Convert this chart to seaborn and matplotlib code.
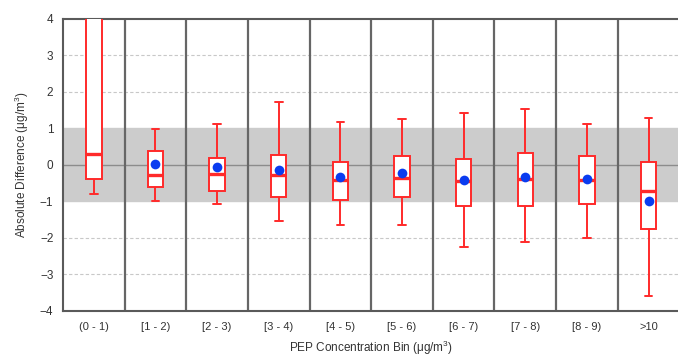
"""
Box plots of absolute difference per PEP concentration bin
"""

## Import packages
import numpy as np
import pandas as pd
import matplotlib.pyplot as plt
from matplotlib.ticker import FixedLocator
import seaborn as sns


## Data (five-number summaries and means)
bins = ['(0 - 1)', '[1 - 2)', '[2 - 3)', '[3 - 4)', '[4 - 5)',
        '[5 - 6)', '[6 - 7)', '[7 - 8)', '[8 - 9)', '>10']
whisker_low = [-0.81, -0.99, -1.08, -1.55, -1.65, -1.65, -2.25, -2.11, -2.01, -3.59]
q1 = [-0.38, -0.60, -0.72, -0.89, -0.96, -0.88, -1.13, -1.12, -1.07, -1.76]
median = [0.30, -0.27, -0.24, -0.29, -0.41, -0.36, -0.43, -0.39, -0.41, -0.71]
q3 = [6.0, 0.39, 0.18, 0.27, 0.07, 0.24, 0.15, 0.33, 0.25, 0.07]
whisker_high = [9.0, 0.98, 1.13, 1.71, 1.17, 1.27, 1.42, 1.54, 1.12, 1.29]
means = [np.nan, 0.02, -0.05, -0.15, -0.32, -0.21, -0.41, -0.32, -0.39, -0.99]

# Long table: five points per bin reproduce the box statistics exactly
rows = []
for i, b in enumerate(bins):
    for v in (whisker_low[i], q1[i], median[i], q3[i], whisker_high[i]):
        rows.append({'bin': b, 'diff': v})
df = pd.DataFrame(rows)
df_mean = pd.DataFrame({'bin': bins, 'mean': means})


## Figure parameters
red = '#ff2a2a'
blue = '#0a3cf0'
frame = '#5a5a5a'

sns.set_theme(style='white')
plt.rcParams['font.family'] = ['Liberation Sans', 'DejaVu Sans']
plt.rcParams['mathtext.default'] = 'regular'

fig = plt.figure(figsize=(6.78, 3.62), dpi=100)
ax = fig.add_axes([0.093, 0.141, 0.909, 0.807])

# Grey band between -1 and 1
ax.axhspan(-1, 1, color='#cccccc', zorder=0)

# Horizontal grid lines
for yv in [-3, -2, 2, 3]:
    ax.axhline(yv, color='#c8c8c8', lw=0.8, ls=(0, (3, 2)), zorder=0.5)
ax.axhline(0, color='#8c8c8c', lw=1.0, zorder=0.5)

# Vertical separators between bins
for xv in np.arange(0.5, len(bins) - 0.5, 1.0):
    ax.axvline(xv, color='#666666', lw=1.6, zorder=1)

## Boxes
sns.boxplot(ax=ax, data=df, x='bin', y='diff', order=bins, whis=(0, 100),
            width=0.25, color='white', linecolor=red, linewidth=1.4,
            showfliers=False, saturation=1,
            boxprops=dict(facecolor='white', edgecolor=red, zorder=3),
            medianprops=dict(color=red, linewidth=2.4, zorder=4),
            whiskerprops=dict(color=red, zorder=3),
            capprops=dict(color=red, zorder=3))

## Means
sns.stripplot(ax=ax, data=df_mean, x='bin', y='mean', order=bins,
              jitter=False, color=blue, size=7, linewidth=0, zorder=5)

## Axes styling
ax.set_xlim(-0.5, len(bins) - 0.5)
ax.set_ylim(-4, 4)
ax.set_yticks(range(-4, 5))
ax.xaxis.set_minor_locator(FixedLocator(np.arange(-0.5, len(bins), 1.0)))
ax.tick_params(axis='x', which='major', length=0, pad=8, labelsize=8, colors='#333333')
ax.tick_params(axis='x', which='minor', length=6, width=1.5, color=frame, direction='inout')
ax.tick_params(axis='y', length=5, width=1.5, color=frame, direction='out',
               labelsize=8.5, labelcolor='#333333', pad=2)
for side in ['left', 'bottom', 'top']:
    ax.spines[side].set_color(frame)
    ax.spines[side].set_linewidth(1.5)
ax.spines['right'].set_visible(False)

ax.set_xlabel('PEP Concentration Bin (μg/m$^{3}$)', fontsize=8.5, color='#333333', labelpad=5)
ax.set_ylabel('Absolute Difference (μg/m$^{3}$)', fontsize=8.5, color='#333333', labelpad=6)

# Save figure
fig.savefig('out.png', dpi=100)
